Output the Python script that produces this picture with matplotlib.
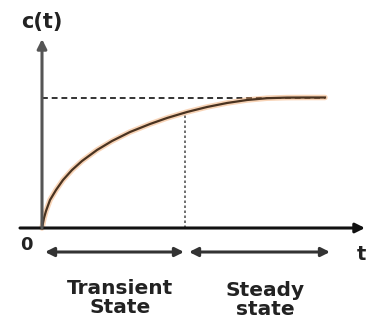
import numpy as np
import matplotlib.pyplot as plt

# step response c(t), read in pixel-like units measured from the origin
t_pts = [0, 2, 4, 8, 14, 21, 30, 40, 55, 70, 88, 108, 125, 145, 165, 185, 205, 225, 245, 265, 283]
c_pts = [0, 10, 17, 28, 38, 48, 58, 67, 78, 87, 96, 104, 110, 116, 121, 125, 128, 129.8, 130.4, 130.5, 130.5]

c_final = 130.5
t_split = 143
t_end = 283
labels = ['Transient\nState', 'Steady\nstate']

fig = plt.figure(figsize=(3.67, 3.29), dpi=100)
ax = fig.add_axes([0, 0, 1, 1])
ax.set_xlim(-42, 325)
ax.set_ylim(-101, 228)
ax.axis('off')

axis_kw = dict(arrowstyle='-|>', mutation_scale=14, lw=2.2, shrinkA=0, shrinkB=0)
# t axis
ax.annotate('', xy=(323, 0), xytext=(-22, 0),
            arrowprops=dict(color='#111111', **axis_kw))
# c(t) axis
ax.annotate('', xy=(0, 189), xytext=(0, 0),
            arrowprops=dict(color='#555555', **axis_kw))

# final value and boundary between the two regions
ax.plot([0, t_end], [c_final, c_final], color='#333333', lw=1.4, ls=(0, (3, 2)))
ax.plot([t_split, t_split], [0, 116], color='#555555', lw=1.2, ls=(0, (1.5, 1.5)))

# response curve with a soft orange edge
ax.plot(t_pts, c_pts, color='#f0a060', lw=4, alpha=0.45, solid_capstyle='round')
ax.plot(t_pts, c_pts, color='#4a3320', lw=1.6)

# region spans
span_kw = dict(arrowstyle='<|-|>', mutation_scale=13, lw=2.2, color='#333333',
               shrinkA=0, shrinkB=0)
ax.annotate('', xy=(3, -24), xytext=(t_split - 1, -24), arrowprops=span_kw)
ax.annotate('', xy=(t_split + 4, -24), xytext=(288, -24), arrowprops=span_kw)

txt_kw = dict(fontweight='bold', color='#222222', ha='center', va='center')
ax.text(0, 206, 'c(t)', fontsize=15, **txt_kw)
ax.text(-16, -17, '0', fontsize=13, **txt_kw)
ax.text(319, -26, 't', fontsize=14, **txt_kw)
ax.text(78, -70, labels[0], fontsize=14.5, linespacing=1.05, **txt_kw)
ax.text(223, -72, labels[1], fontsize=14.5, linespacing=1.05, **txt_kw)

fig.savefig('out.png', dpi=100, facecolor='white')
